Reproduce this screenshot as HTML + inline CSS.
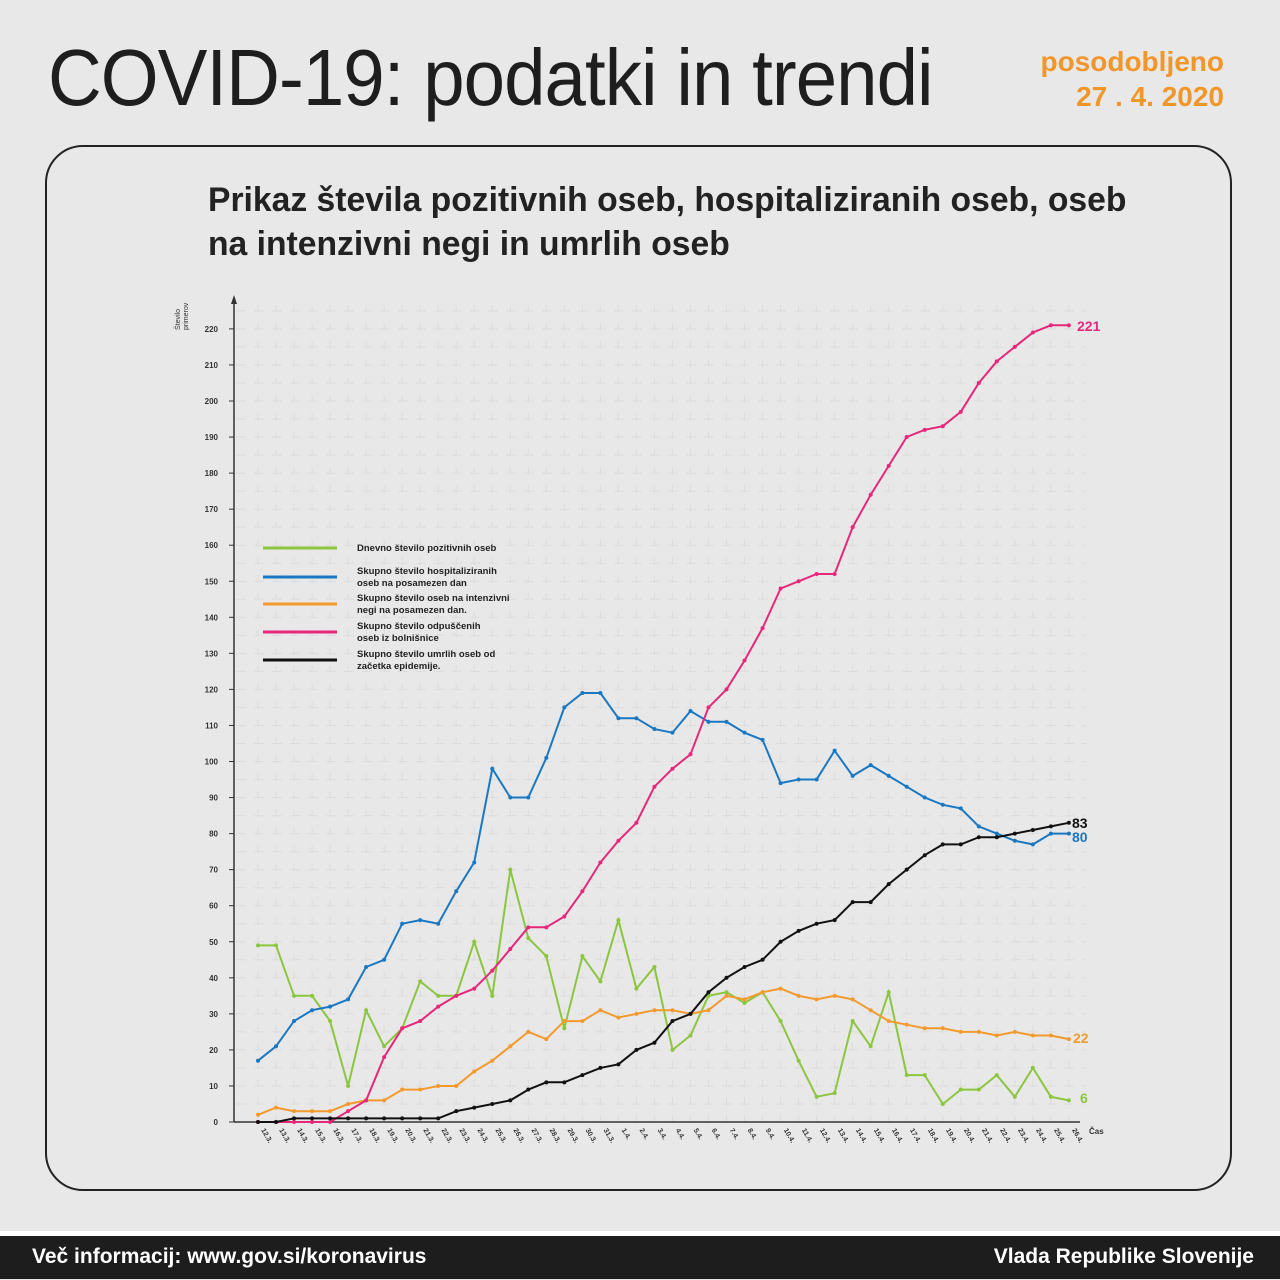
<!DOCTYPE html>
<html><head><meta charset="utf-8">
<style>
html,body{margin:0;padding:0;}
body{width:1280px;height:1280px;background:#e8e8e8;position:relative;overflow:hidden;font-family:"Liberation Sans",sans-serif;}
#title{position:absolute;left:48px;top:32px;font-size:80px;color:#1e1e1e;letter-spacing:-1px;font-weight:normal;transform:scaleX(0.93);transform-origin:left;}
#upd{position:absolute;right:56px;top:44px;text-align:right;color:#f0962a;font-weight:bold;font-size:28px;line-height:35px;}
#panel{position:absolute;left:45px;top:145px;width:1187px;height:1046px;border:2px solid #222;border-radius:38px;box-sizing:border-box;}
#sub{position:absolute;left:208px;top:178px;font-size:34px;font-weight:bold;color:#222;line-height:44px;transform:scaleX(0.99);transform-origin:left;white-space:nowrap;}
#strip{position:absolute;left:0;top:1231px;width:1280px;height:5px;background:#fff;}
#foot{position:absolute;left:0;top:1236px;width:1280px;height:43px;background:#1d1d1d;color:#fff;font-weight:bold;font-size:21px;}
#foot .l{position:absolute;left:32px;top:9px;}
#foot .r{position:absolute;right:26px;top:9px;}
svg{position:absolute;left:0;top:0;}
</style></head><body>
<div id="title">COVID-19: podatki in trendi</div>
<div id="upd">posodobljeno<br>27 . 4. 2020</div>
<div id="panel"></div>
<div id="sub">Prikaz števila pozitivnih oseb, hospitaliziranih oseb, oseb<br>na intenzivni negi in umrlih oseb</div>
<svg id="c" width="1280" height="1280" xmlns="http://www.w3.org/2000/svg"></svg>
<div id="strip"></div>
<div id="foot"><span class="l">Več informacij: www.gov.si/koronavirus</span><span class="r">Vlada Republike Slovenije</span></div>
<script>
var X0=258,DX=18.02,Y0=1122,DY=3.605;
function X(i){return X0+i*DX;} function Y(v){return Y0-v*DY;}
var s='';
for(var v=5;v<=225;v+=5){s+='<line x1="236" x2="1085" y1="'+Y(v)+'" y2="'+Y(v)+'" stroke="#dcdcdc" stroke-width="1" stroke-dasharray="10,8"/>';}
for(var i=0;i<46;i++){s+='<line x1="'+X(i)+'" x2="'+X(i)+'" y1="305" y2="1122" stroke="#dcdcdc" stroke-width="1" stroke-dasharray="8,10"/>';}
s+='<line x1="234" x2="234" y1="300" y2="1122" stroke="#333" stroke-width="1.5"/>';
s+='<polygon points="234,295 231,304 237,304" fill="#333"/>';
s+='<line x1="234" x2="1080" y1="1122" y2="1122" stroke="#333" stroke-width="1.5"/>';
for(var v=0;v<=220;v+=10){s+='<line x1="229" x2="234" y1="'+Y(v)+'" y2="'+Y(v)+'" stroke="#333"/>';
s+='<text x="218" y="'+(Y(v)+3)+'" font-size="8" font-weight="bold" text-anchor="end" fill="#333">'+v+'</text>';}
s+='<text transform="translate(180,330) rotate(-90)" font-size="7" fill="#333">Število</text>';
s+='<text transform="translate(188,330) rotate(-90)" font-size="7" fill="#333">primerov</text>';
s+='<text x="1089" y="1134" font-size="8" font-weight="bold" fill="#333">Čas</text>';
var labs=[];for(var d=12;d<=31;d++)labs.push(d+'.3.');for(var d=1;d<=26;d++)labs.push(d+'.4.');
for(var i=0;i<46;i++){s+='<text transform="translate('+(X(i)+3)+',1130) rotate(60)" font-size="7" font-weight="bold" fill="#333">'+labs[i]+'</text>';}
var G=[49,49,35,35,28,10,31,21,26,39,35,35,50,35,70,51,46,26,46,39,56,37,43,20,24,35,36,33,36,28,17,7,8,28,21,36,13,13,5,9,9,13,7,15,7,6];
var B=[17,21,28,31,32,34,43,45,55,56,55,64,72,98,90,90,101,115,119,119,112,112,109,108,114,111,111,108,106,94,95,95,103,96,99,96,93,90,88,87,82,80,78,77,80,80];
var O=[2,4,3,3,3,5,6,6,9,9,10,10,14,17,21,25,23,28,28,31,29,30,31,31,30,31,35,34,36,37,35,34,35,34,31,28,27,26,26,25,25,24,25,24,24,23];
var P=[0,0,0,0,0,3,6,18,26,28,32,35,37,42,48,54,54,57,64,72,78,83,93,98,102,115,120,128,137,148,150,152,152,165,174,182,190,192,193,197,205,211,215,219,221,221];
var K=[0,0,1,1,1,1,1,1,1,1,1,3,4,5,6,9,11,11,13,15,16,20,22,28,30,36,40,43,45,50,53,55,56,61,61,66,70,74,77,77,79,79,80,81,82,83];
function ser(a,c){var p=a.map(function(v,i){return X(i).toFixed(1)+','+Y(v).toFixed(1)}).join(' ');
var r='<polyline points="'+p+'" fill="none" stroke="'+c+'" stroke-width="2"/>';
a.forEach(function(v,i){r+='<circle cx="'+X(i)+'" cy="'+Y(v)+'" r="2" fill="'+c+'"/>';});return r;}
s+=ser(G,'#8cc63f')+ser(O,'#f39a2e')+ser(B,'#1a78c2')+ser(P,'#e6277a')+ser(K,'#111');
s+='<text x="1077" y="331" font-size="14" font-weight="bold" fill="#e6277a">221</text>';
s+='<text x="1072" y="828" font-size="14" font-weight="bold" fill="#111">83</text>';
s+='<text x="1072" y="842" font-size="14" font-weight="bold" fill="#1a78c2">80</text>';
s+='<text x="1073" y="1043" font-size="14" font-weight="bold" fill="#f39a2e">22</text>';
s+='<text x="1080" y="1103" font-size="14" font-weight="bold" fill="#8cc63f">6</text>';
var L=[['#8cc63f',548,['Dnevno število pozitivnih oseb']],['#1a78c2',577,['Skupno število hospitaliziranih','oseb na posamezen dan']],['#f39a2e',604,['Skupno število oseb na intenzivni','negi na posamezen dan.']],['#e6277a',632,['Skupno število odpuščenih','oseb iz bolnišnice']],['#111',660,['Skupno število umrlih oseb od','začetka epidemije.']]];
L.forEach(function(l){s+='<line x1="263" x2="337" y1="'+l[1]+'" y2="'+l[1]+'" stroke="'+l[0]+'" stroke-width="3"/>';
l[2].forEach(function(t,j){var yy=l[2].length==1?l[1]+3:l[1]-3+j*12;s+='<text x="357" y="'+yy+'" font-size="9.5" font-weight="bold" fill="#222">'+t+'</text>';});});
document.getElementById('c').innerHTML=s;
</script>
</body></html>
